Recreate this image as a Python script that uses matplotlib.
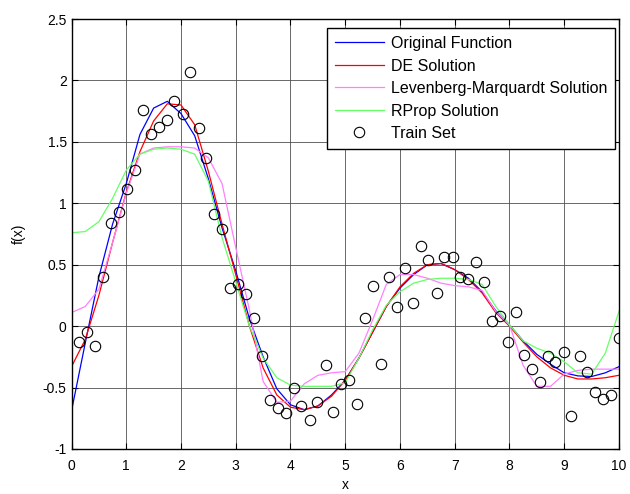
import numpy as np
import matplotlib
matplotlib.use("Agg")
import matplotlib.pyplot as plt

plt.rcParams['font.family'] = ['Liberation Sans', 'DejaVu Sans']

x_line = [0.0, 0.25, 0.5, 0.75, 1.0, 1.25, 1.5, 1.75, 2.0, 2.25,
          2.5, 2.75, 3.0, 3.25, 3.5, 3.75, 4.0, 4.25, 4.5, 4.75,
          5.0, 5.25, 5.5, 5.75, 6.0, 6.25, 6.5, 6.75, 7.0, 7.25,
          7.5, 7.75, 8.0, 8.25, 8.5, 8.75, 9.0, 9.25, 9.5, 9.75, 10.0]

original = [-0.69, -0.14, 0.40, 0.83, 1.16, 1.56, 1.775, 1.83, 1.73, 1.55,
            1.20, 0.80, 0.45, 0.06, -0.25, -0.51, -0.64, -0.68, -0.65, -0.56,
            -0.44, -0.26, -0.05, 0.16, 0.31, 0.42, 0.50, 0.51, 0.46, 0.39,
            0.28, 0.125, 0.01, -0.12, -0.23, -0.31, -0.38, -0.405, -0.41, -0.38, -0.33]

de_sol = [-0.33, -0.11, 0.25, 0.68, 1.09, 1.42, 1.67, 1.81, 1.80, 1.64,
          1.26, 0.83, 0.42, 0.00, -0.34, -0.56, -0.66, -0.68, -0.65, -0.57,
          -0.44, -0.26, -0.05, 0.16, 0.32, 0.43, 0.50, 0.51, 0.46, 0.38,
          0.27, 0.11, 0.00, -0.13, -0.25, -0.34, -0.40, -0.43, -0.43, -0.42, -0.40]

lm_sol = [0.11, 0.16, 0.30, 0.68, 1.08, 1.40, 1.45, 1.46, 1.46, 1.45,
          1.37, 1.16, 0.64, 0.13, -0.45, -0.62, -0.61, -0.47, -0.40, -0.38,
          -0.37, -0.22, 0.05, 0.34, 0.42, 0.42, 0.39, 0.35, 0.33, 0.32,
          0.29, 0.12, 0.01, -0.32, -0.49, -0.49, -0.39, -0.36, -0.35, -0.35, -0.35]

rprop_sol = [0.76, 0.77, 0.85, 1.04, 1.27, 1.40, 1.44, 1.45, 1.44, 1.40,
             1.18, 0.72, 0.36, 0.00, -0.26, -0.42, -0.48, -0.49, -0.49, -0.49,
             -0.46, -0.26, -0.03, 0.17, 0.28, 0.35, 0.38, 0.39, 0.39, 0.38,
             0.34, 0.16, 0.01, -0.12, -0.18, -0.22, -0.29, -0.38, -0.39, -0.22, 0.12]

x_train = [0.14, 0.29, 0.43, 0.58, 0.72, 0.87, 1.01, 1.16, 1.30, 1.45,
           1.59, 1.74, 1.88, 2.03, 2.17, 2.32, 2.46, 2.61, 2.75, 2.90,
           3.04, 3.19, 3.33, 3.48, 3.62, 3.77, 3.91, 4.06, 4.20, 4.35,
           4.49, 4.64, 4.78, 4.93, 5.07, 5.22, 5.36, 5.51, 5.65, 5.80,
           5.94, 6.09, 6.23, 6.38, 6.52, 6.67, 6.81, 6.96, 7.10, 7.25,
           7.39, 7.54, 7.68, 7.83, 7.97, 8.12, 8.26, 8.41, 8.55, 8.70,
           8.84, 8.99, 9.13, 9.28, 9.42, 9.57, 9.71, 9.86, 10.0]
y_train = [-0.13, -0.05, -0.16, 0.40, 0.84, 0.93, 1.12, 1.27, 1.76, 1.56,
           1.62, 1.68, 1.83, 1.73, 2.07, 1.61, 1.37, 0.91, 0.79, 0.31,
           0.34, 0.26, 0.07, -0.245, -0.60, -0.665, -0.71, -0.50, -0.65, -0.76,
           -0.62, -0.32, -0.70, -0.47, -0.44, -0.63, 0.065, 0.33, -0.31, 0.40,
           0.155, 0.475, 0.19, 0.65, 0.54, 0.27, 0.565, 0.565, 0.40, 0.38,
           0.52, 0.36, 0.045, 0.08, -0.13, 0.115, -0.235, -0.35, -0.455, -0.245,
           -0.29, -0.21, -0.73, -0.24, -0.37, -0.535, -0.59, -0.56, -0.10]

fig = plt.figure(figsize=(6.3, 4.94), dpi=100)
ax = fig.add_axes([0.1135, 0.0911, 0.869, 0.8704])

ax.plot(x_line, original, color='#0000ff', lw=0.9, label='Original Function')
ax.plot(x_line, de_sol, color='#ff0000', lw=0.9, label='DE Solution')
ax.plot(x_line, lm_sol, color='#ff80ff', lw=0.9, label='Levenberg-Marquardt Solution')
ax.plot(x_line, rprop_sol, color='#66ff66', lw=0.9, label='RProp Solution')
ax.plot(x_train, y_train, 'o', mfc='none', mec='k', ms=7.5, mew=0.8, label='Train Set')

ax.set_xlim(0, 10)
ax.set_ylim(-1, 2.5)
ax.set_xticks(np.arange(0, 11, 1))
ax.set_yticks([-1, -0.5, 0, 0.5, 1, 1.5, 2, 2.5])
ax.set_yticklabels(['-1', '-0.5', '0', '0.5', '1', '1.5', '2', '2.5'])
ax.grid(True, color='#505050', lw=0.6)
ax.tick_params(direction='in', top=True, right=True, labelsize=10, length=4, width=0.8)
ax.tick_params(axis='x', pad=7)
for s in ax.spines.values():
    s.set_linewidth(1.0)
ax.set_xlabel('x', fontsize=10, labelpad=4)
ax.set_ylabel('f(x)', fontsize=10, labelpad=12)

leg = ax.legend(loc='upper right', bbox_to_anchor=(0.9927, 0.979), borderaxespad=0,
                prop={'size': 11.5}, fancybox=False, framealpha=1, edgecolor='k',
                handlelength=3.1, handletextpad=0.4, labelspacing=0.47, borderpad=0.5)
leg.get_frame().set_linewidth(1.0)

fig.savefig('out.png', dpi=100)
